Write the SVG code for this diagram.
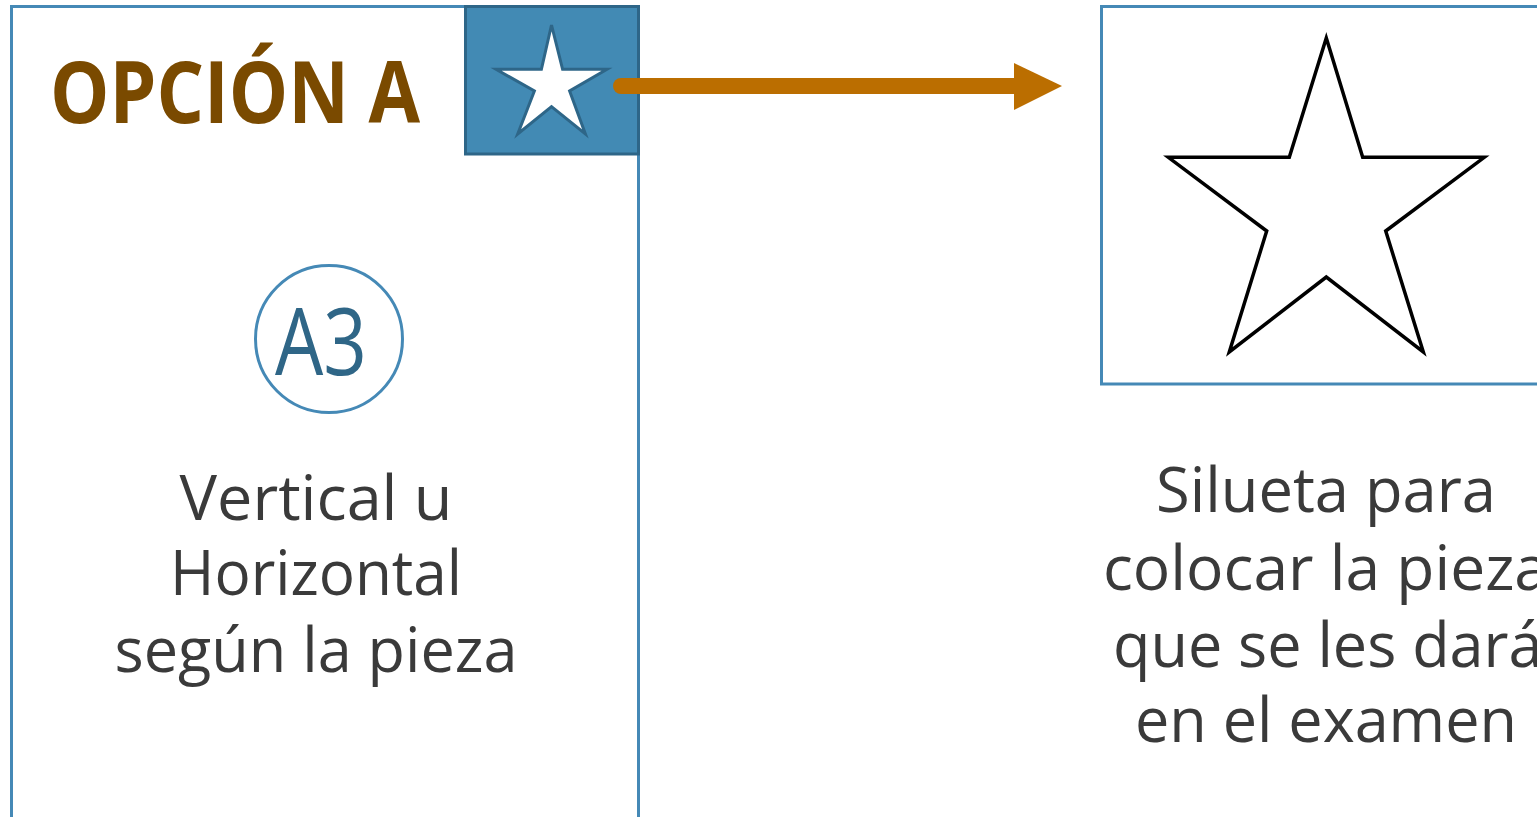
<svg xmlns="http://www.w3.org/2000/svg" width="1537" height="817" viewBox="0 0 1537 817">
  <style>
    .panel { fill: #ffffff; stroke: #4589b6; stroke-width: 3; }
    .body { font-family: "Open Sans", "Liberation Sans", sans-serif; font-size: 62px; fill: #3a3a3a; text-anchor: middle; }
    .title { font-family: "Open Sans", "Liberation Sans", sans-serif; font-weight: bold; font-size: 86px; fill: #7a4a00; }
    .badge { font-family: "Open Sans", "Liberation Sans", sans-serif; font-size: 94px; fill: #2f6687; }
  </style>
  <rect width="1537" height="817" fill="#ffffff"/>

  <g id="panel-opcion-a">
    <rect class="panel" x="11.5" y="6.5" width="627" height="840"/>
    <text class="title" x="50" y="123" textLength="370" lengthAdjust="spacingAndGlyphs">OPCIÓN A</text>
  </g>

  <g id="icon-star">
    <rect x="465.5" y="6.5" width="173" height="147.5" fill="#428ab4" stroke="#2e6688" stroke-width="3"/>
    <polygon points="551.5,25 562.6,69.3 607,69.3 569.6,91 585.4,134 551.5,106.7 517.7,134 534.4,91 496.1,69.3 541.4,69.3" fill="#ffffff" stroke="#2e6688" stroke-width="3" stroke-linejoin="miter"/>
  </g>

  <g id="badge-a3">
    <circle cx="329" cy="339" r="73.5" fill="#ffffff" stroke="#4589b6" stroke-width="3"/>
    <text class="badge" x="275" y="375" textLength="92" lengthAdjust="spacingAndGlyphs">A3</text>
  </g>

  <g id="text-a">
    <text class="body" x="316" y="520" textLength="273" lengthAdjust="spacingAndGlyphs">Vertical u</text>
    <text class="body" x="316" y="595" textLength="292" lengthAdjust="spacingAndGlyphs">Horizontal</text>
    <text class="body" x="316" y="672" textLength="403" lengthAdjust="spacingAndGlyphs">según la pieza</text>
  </g>

  <g id="silhouette">
    <rect class="panel" x="1101.5" y="6.5" width="470" height="377.5"/>
    <polygon points="1326.3,38 1362.7,157.3 1484.3,157.3 1385.7,231 1423.3,352 1326.3,277 1229.3,352 1266.7,231 1168.3,157.3 1289.3,157.3" fill="#ffffff" stroke="#000000" stroke-width="3.5" stroke-linejoin="miter"/>
  </g>

  <g id="text-silhouette">
    <text class="body" x="1326" y="512" textLength="340" lengthAdjust="spacingAndGlyphs">Silueta para</text>
    <text class="body" x="1326" y="590" textLength="446" lengthAdjust="spacingAndGlyphs">colocar la pieza</text>
    <text class="body" x="1113" y="667" style="text-anchor:start" textLength="467" lengthAdjust="spacingAndGlyphs">que se les darán</text>
    <text class="body" x="1326" y="742" textLength="382" lengthAdjust="spacingAndGlyphs">en el examen</text>
  </g>

  <g id="connectors">
    <line x1="621" y1="86" x2="1018" y2="86" stroke="#bb6e00" stroke-width="16" stroke-linecap="round"/>
    <polygon points="1014,63 1062,86 1014,110" fill="#bb6e00"/>
  </g>
</svg>
